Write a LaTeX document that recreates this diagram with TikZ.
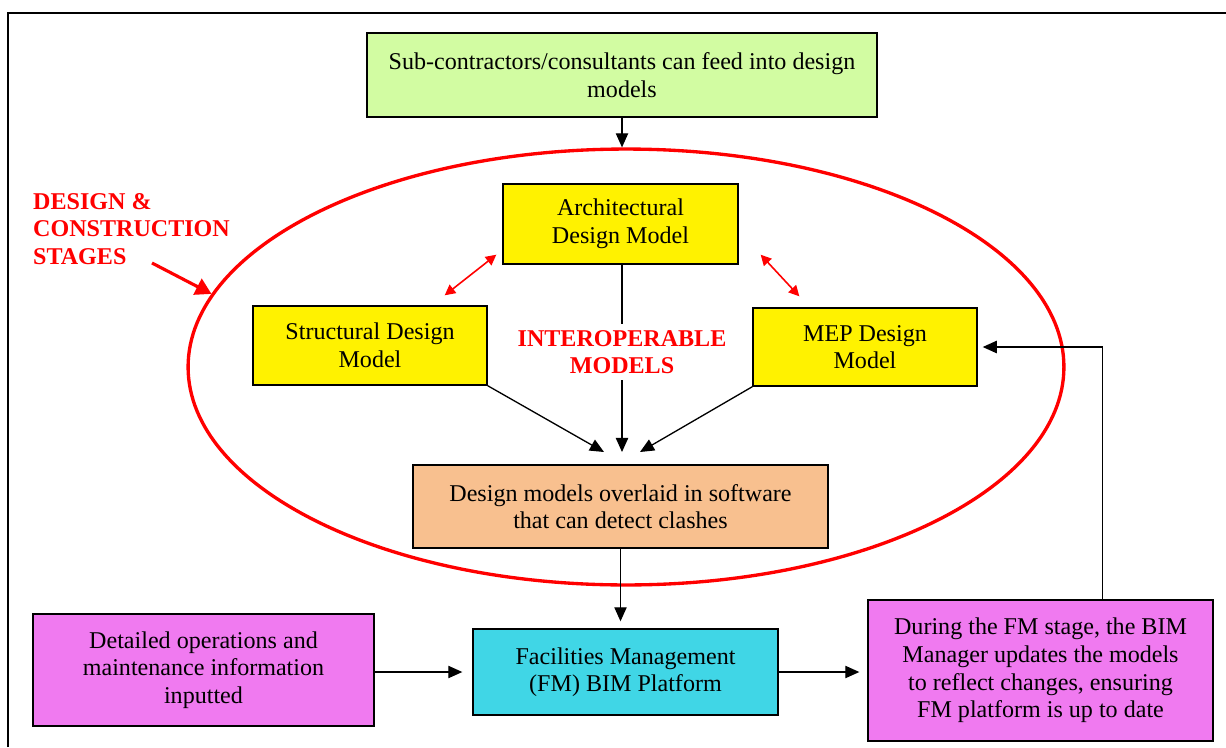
\documentclass[tikz,border=0pt]{standalone}
\usepackage{fontspec}
\setmainfont{Liberation Serif}
\usetikzlibrary{arrows.meta,shapes.geometric}

\definecolor{subgreen}{HTML}{D2FCA2}
\definecolor{clashorange}{HTML}{F8C08F}
\definecolor{fmcyan}{HTML}{40D6E6}
\definecolor{infopink}{HTML}{F07AF0}

\begin{document}
\begin{tikzpicture}[x=0.02cm, y=-0.02cm,
    every node/.style={font=\fontsize{13.7}{15.7}\selectfont},
    box/.style={draw, line width=0.8pt, align=center, inner sep=2pt},
    arr/.style={-{Triangle[length=8pt,width=7pt]}, line width=0.75pt},
    dbl/.style={{Triangle[length=6pt,width=6pt]}-{Triangle[length=6pt,width=6pt]}, red, line width=0.9pt},
    redlabel/.style={text=red, font=\fontsize{13.7}{15.7}\selectfont\bfseries}]
    \clip (0,0) rectangle (1226,747);
    \draw[line width=1.3pt] (8,747) -- (8,13) -- (1226,13);

    % design and construction stages
    \node[draw=red, line width=1.9pt, ellipse, inner sep=0pt,
        minimum width=17.52cm, minimum height=8.72cm] (stageloop) at (626,367) {};
    \node[redlabel, align=left, anchor=west] (stages) at (27,229) {DESIGN \&\\CONSTRUCTION\\STAGES};
    \coordinate (stagestail) at (152,263);
    \draw[red, line width=1.8pt, -{Triangle[length=9pt,width=10pt]}] (stagestail) -- (stageloop.170);

    \node[box, fill=subgreen, minimum width=10.2cm, minimum height=1.68cm] (sub) at (622,75)
        {Sub-contractors/consultants can feed into design\\models};
    \node[box, fill=yellow, minimum width=4.7cm, minimum height=1.6cm] (arch) at (620.5,224)
        {Architectural\\Design Model};
    \node[box, fill=yellow, minimum width=4.68cm, minimum height=1.58cm] (struct) at (370,345.5)
        {Structural Design\\Model};
    \node[box, fill=yellow, minimum width=4.48cm, minimum height=1.56cm] (mep) at (865,347)
        {MEP Design\\Model};
    \node[redlabel, align=center] (interop) at (622,352) {INTEROPERABLE\\MODELS};
    \node[box, fill=clashorange, minimum width=8.3cm, minimum height=1.66cm] (clash) at (620.5,506.5)
        {Design models overlaid in software\\that can detect clashes};

    % FM stage
    \node[box, fill=fmcyan, minimum width=6.1cm, minimum height=1.72cm] (fm) at (625.5,672)
        {Facilities Management\\(FM) BIM Platform};
    \node[box, fill=infopink, minimum width=6.82cm, minimum height=2.24cm] (info) at (203.5,670)
        {Detailed operations and\\maintenance information\\inputted};
    \node[box, fill=infopink, minimum width=6.9cm, minimum height=2.82cm] (update) at (1040.5,670.5)
        {During the FM stage, the BIM\\Manager updates the models\\to reflect changes, ensuring\\FM platform is up to date};

    % connectors
    \draw[arr] (sub) -- (sub |- stageloop.north);
    \draw[dbl] ([xshift=-0.86cm,yshift=0.2cm]struct.north east) -- ([xshift=-0.12cm,yshift=0.2cm]arch.south west);
    \draw[dbl] ([xshift=0.44cm,yshift=0.2cm]arch.south east) -- ([xshift=0.94cm,yshift=0.22cm]mep.north west);
    \draw[line width=0.75pt] (arch.south -| interop) -- (interop);
    \coordinate (meet) at (622,452);
    \draw[arr] (interop) -- (meet);
    \draw[arr] (struct.south east) -- ([xshift=-0.36cm]meet);
    \draw[arr] (mep.south west) -- ([xshift=0.36cm]meet);
    \draw[arr, shorten >=0.14cm] (clash.south) -- (clash.south |- fm.north);
    \draw[arr, shorten >=0.2cm] (info.east |- fm) -- (fm.west);
    \draw[arr, shorten >=0.16cm] (fm) -- (fm -| update.west);
    \draw[arr, shorten >=0.1cm] ([xshift=1.24cm]update.north) |- (mep.east);
\end{tikzpicture}
\end{document}
